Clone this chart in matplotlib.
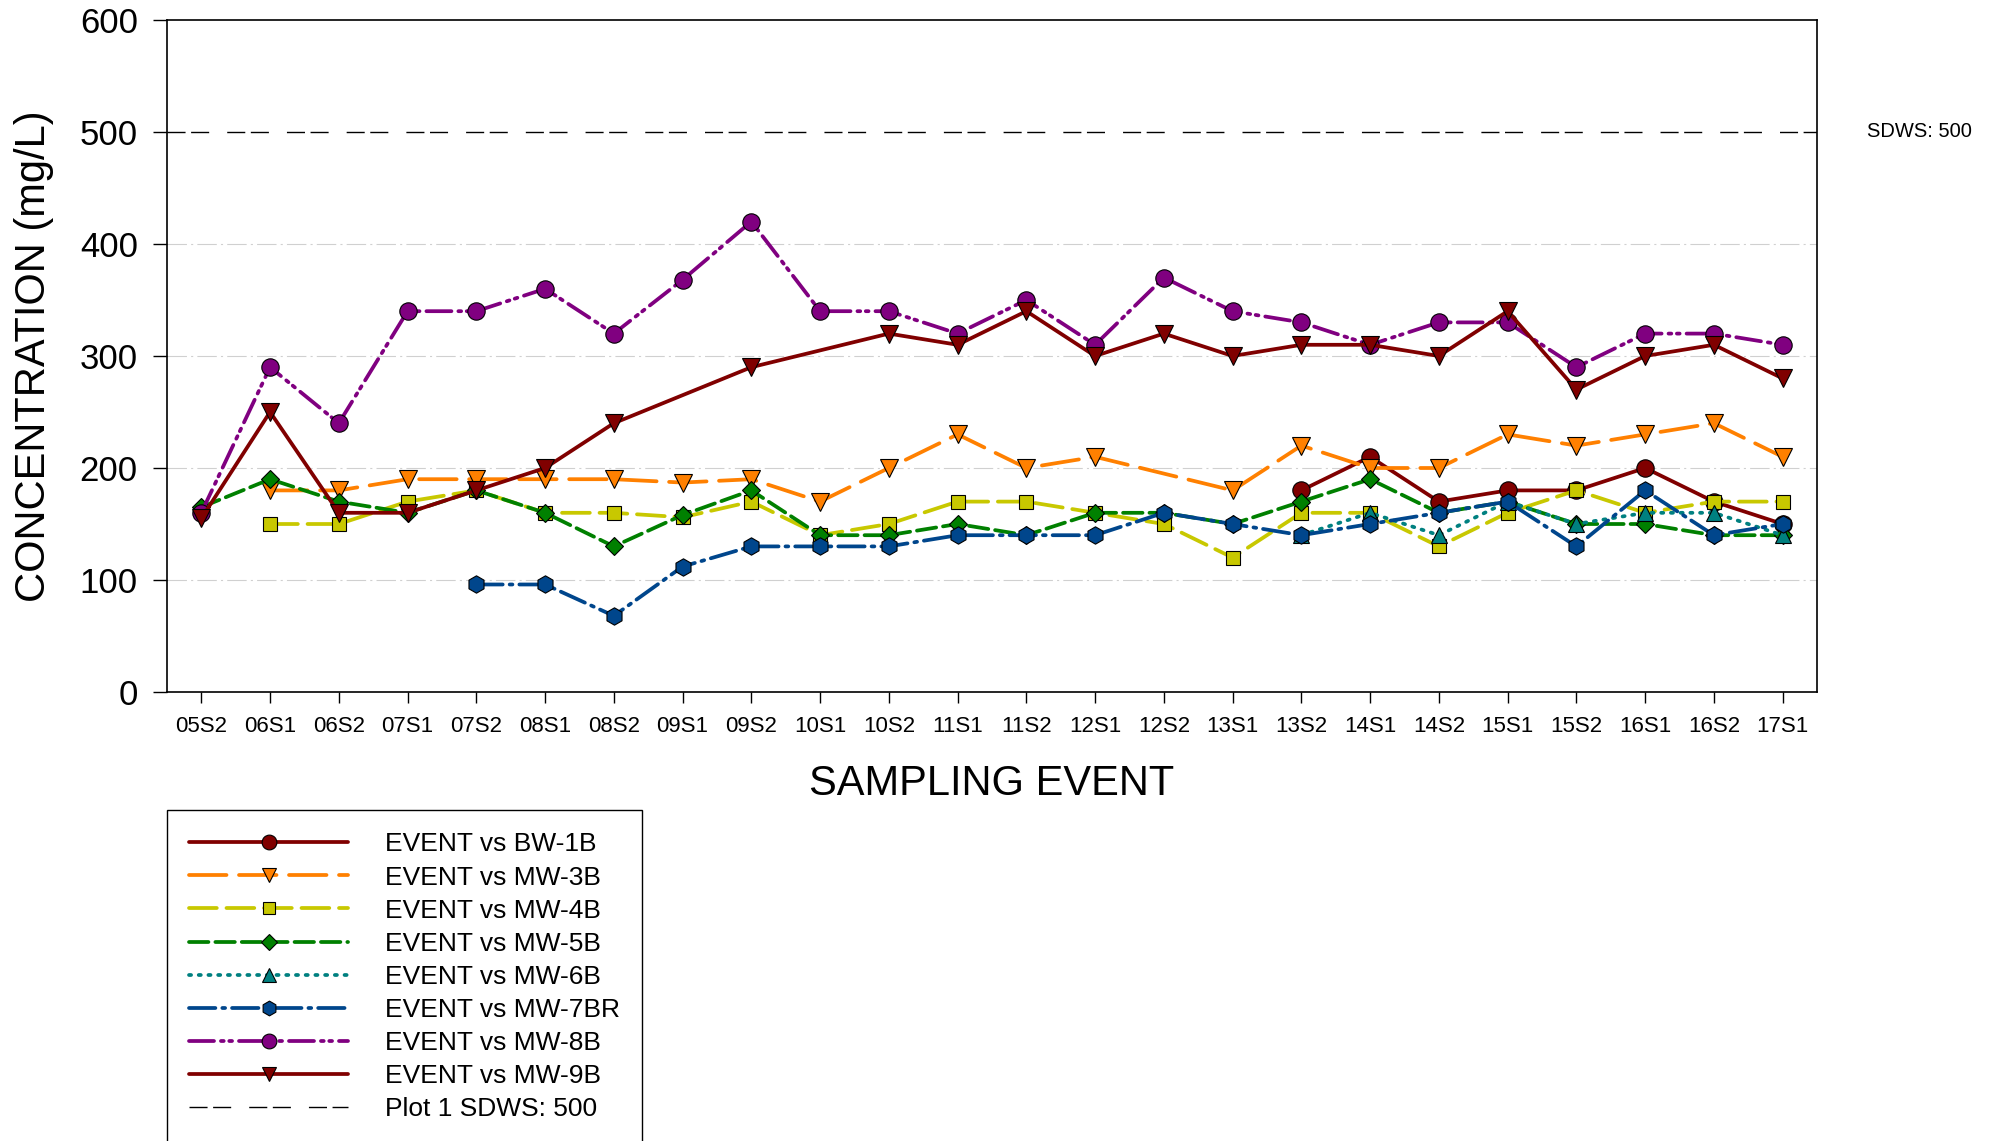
import numpy as np
import matplotlib
matplotlib.use("Agg")
import matplotlib.pyplot as plt

plt.rcParams['font.family'] = ['Liberation Sans', 'DejaVu Sans']
plt.rcParams['lines.scale_dashes'] = False

nan = np.nan

# sampling events on the x axis
events = ["05S2", "06S1", "06S2", "07S1", "07S2", "08S1", "08S2", "09S1", "09S2",
          "10S1", "10S2", "11S1", "11S2", "12S1", "12S2", "13S1", "13S2", "14S1",
          "14S2", "15S1", "15S2", "16S1", "16S2", "17S1"]

# concentrations (mg/L), nan = not sampled
bw_1b = [nan, nan, nan, nan, nan, nan, nan, nan, nan, nan, nan, nan, nan, nan, nan, nan,
         180, 210, 170, 180, 180, 200, 170, 150]
mw_3b = [nan, 180, 180, 190, 190, 190, 190, 187, 190, 170, 200, 230, 200, 210, nan, 180,
         220, 200, 200, 230, 220, 230, 240, 210]
mw_4b = [nan, 150, 150, 170, 180, 160, 160, 156, 170, 140, 150, 170, 170, 160, 150, 120,
         160, 160, 130, 160, 180, 160, 170, 170]
mw_5b = [165, 190, 170, 160, 180, 160, 130, 158, 180, 140, 140, 150, 140, 160, 160, 150,
         170, 190, 160, 170, 150, 150, 140, 140]
mw_6b = [nan, nan, nan, nan, nan, nan, nan, nan, nan, nan, nan, nan, nan, nan, nan, nan,
         140, 160, 140, 170, 150, 160, 160, 140]
mw_7br = [nan, nan, nan, nan, 96, 96, 68, 112, 130, 130, 130, 140, 140, 140, 160, 150,
          140, 150, 160, 170, 130, 180, 140, 150]
mw_8b = [160, 290, 240, 340, 340, 360, 320, 368, 420, 340, 340, 320, 350, 310, 370, 340,
         330, 310, 330, 330, 290, 320, 320, 310]
mw_9b = [155, 250, 160, 160, 180, 200, 240, nan, 290, nan, 320, 310, 340, 300, 320, 300,
         310, 310, 300, 340, 270, 300, 310, 280]

SDWS = 500

series = [
    ("EVENT vs BW-1B", bw_1b, "#800000", "o", 12.5, (0, ())),
    ("EVENT vs MW-3B", mw_3b, "#FF8000", "v", 12.5, (0, (27, 9))),
    ("EVENT vs MW-4B", mw_4b, "#C8C800", "s", 10, (0, (20, 7))),
    ("EVENT vs MW-5B", mw_5b, "#008000", "D", 9.5, (0, (14, 5))),
    ("EVENT vs MW-6B", mw_6b, "#008080", "^", 11.5, (0, (1.5, 5.5))),
    ("EVENT vs MW-7BR", mw_7br, "#00468C", "h", 12.5, (0, (19, 5, 2, 5))),
    ("EVENT vs MW-8B", mw_8b, "#800080", "o", 12.5, (0, (18, 5, 2, 4, 2, 5))),
    ("EVENT vs MW-9B", mw_9b, "#800000", "v", 12.5, (0, ())),
]

fig = plt.figure(figsize=(20.16, 11.41), dpi=100)
ax = fig.add_axes([0.0828, 0.3935, 0.8185, 0.589])

x = np.arange(len(events))
for label, vals, col, mk, ms, ls in series:
    v = np.array(vals, dtype=float)
    ok = ~np.isnan(v)
    ax.plot(x[ok], v[ok], color=col, lw=2.7, linestyle=ls, marker=mk, ms=ms,
            markerfacecolor=col, markeredgecolor="black", markeredgewidth=0.8,
            dash_capstyle="round", label=label)

# standard line
ax.axhline(SDWS, color="black", lw=1.0, linestyle=(0, (13, 4, 13, 13)),
           label="Plot 1 SDWS: 500")
ax.text(1.03, SDWS, "SDWS: 500", transform=ax.get_yaxis_transform(),
        ha="left", va="center", fontsize=14.5)

# light grid lines
for g in [100, 200, 300, 400]:
    ax.axhline(g, color="#d0d0d0", lw=0.8, linestyle=(0, (14, 3, 1.5, 3)), zorder=0)

ax.set_xlim(-0.5, 23.5)
ax.set_ylim(0, 600)
ax.set_yticks([0, 100, 200, 300, 400, 500, 600])
ax.set_xticks(x)
ax.set_xticklabels(events)
ax.tick_params(axis="y", labelsize=25, length=10, width=1, pad=11)
ax.tick_params(axis="x", labelsize=16, length=8, width=1, pad=9)
for s in ax.spines.values():
    s.set_linewidth(1.2)

ax.set_ylabel("CONCENTRATION (mg/L)", fontsize=30)
ax.set_xlabel("SAMPLING EVENT", fontsize=30)
ax.yaxis.set_label_coords(-0.0805, 0.5)
ax.yaxis.label.set_va("center")
ax.xaxis.set_label_coords(0.5, -0.137)
ax.xaxis.label.set_va("center")

leg = fig.legend(loc="upper left", bbox_to_anchor=(167 / 2016, 1 - 810 / 1141),
                 fontsize=19, handlelength=6.0, handletextpad=1.4, labelspacing=0.345,
                 borderpad=0.85, borderaxespad=0, fancybox=False, framealpha=1,
                 markerscale=0.85)
leg.get_frame().set_edgecolor("black")
leg.get_frame().set_linewidth(1.0)

fig.savefig("out.png", dpi=100)
